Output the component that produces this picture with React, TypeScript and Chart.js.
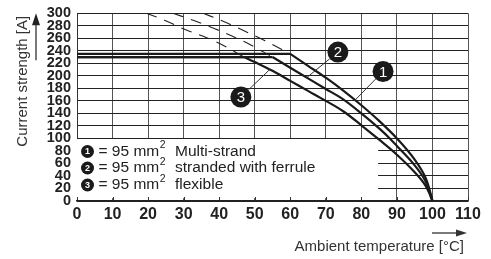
import React, { useEffect, useRef } from "react";
import { Chart, registerables } from "chart.js";

Chart.register(...registerables);

// ---------- data ----------
const xMin = 0;
const xMax = 110;
const xStep = 10;
const yMin = 0;
const yMax = 300;
const yStep = 20;

const flat1Temp = [0, 60];
const flat1Amp = [235, 235];
const flat2Temp = [0, 55];
const flat2Amp = [230, 230];
const flat3Temp = [0, 47];
const flat3Amp = [230, 230];

const curve1Temp = [60, 65, 70, 75, 80, 85, 90, 95, 98, 99, 100];
const curve1Amp = [235, 216, 197, 176, 153, 128, 100, 66, 38, 22, 0];
const curve2Temp = [55, 60, 65, 70, 75, 80, 85, 88, 90, 95, 98, 99, 100];
const curve2Amp = [230, 213, 196, 179, 162, 140, 116, 100, 88, 57, 32, 18, 0];
const curve3Temp = [47, 50, 55, 60, 65, 70, 75, 80, 85, 90, 95, 98, 99, 100];
const curve3Amp = [230, 222, 208, 192, 176, 160, 143, 121, 98, 74, 46, 25, 14, 0];

const dash1Temp = [35.5, 41.6, 47, 52.9, 60];
const dash1Amp = [300, 286, 272, 256, 235];
const dash2Temp = [27, 34, 41, 48, 55];
const dash2Amp = [300, 286, 270, 252, 230];
const dash3Temp = [19.5, 24.6, 30.4, 36.5, 42, 47];
const dash3Amp = [300, 289, 274, 261, 246, 230];

// callout labels: circle position and point on the curve
const calloutNames = ["1", "2", "3"];
const calloutCircleTemp = [86.1, 73.4, 46.1];
const calloutCircleAmp = [207, 238, 166];
const calloutTargetTemp = [78.2, 64.6, 54.3];
const calloutTargetAmp = [161, 197, 210.5];

const legendNames = ["1", "2", "3"];
const legendSize = ["= 95 mm", "= 95 mm", "= 95 mm"];
const legendDesc = ["Multi-strand", "stranded with ferrule", "flexible"];

const yTitle = "Current strength [A]";
const xTitle = "Ambient temperature [°C]";

const FONT = '"Liberation Sans", Arial, Helvetica, sans-serif';

const pts = (xs: number[], ys: number[]) => xs.map((x, i) => ({ x, y: ys[i] }));

const overlayPlugin = {
  id: "overlay",
  beforeDatasetsDraw(chart: any) {
    const { ctx, chartArea, scales } = chart;
    const x = scales.x;
    const y = scales.y;
    ctx.save();
    // white legend field
    const l = chartArea.left - 1.5;
    const r = x.getPixelForValue(84.7);
    const t = y.getPixelForValue(99);
    const b = y.getPixelForValue(4.5);
    ctx.fillStyle = "#ffffff";
    ctx.fillRect(l, t, r - l, b - t);
    // inward tick marks on the x axis
    ctx.strokeStyle = "#333";
    ctx.lineWidth = 1;
    for (let v = xMin; v <= xMax; v += xStep) {
      const px = Math.round(x.getPixelForValue(v)) + 0.5;
      ctx.beginPath();
      ctx.moveTo(px, chartArea.bottom);
      ctx.lineTo(px, chartArea.bottom - 4);
      ctx.stroke();
    }
    // redraw bottom axis line
    ctx.strokeStyle = "#222";
    ctx.lineWidth = 1.5;
    ctx.beginPath();
    ctx.moveTo(chartArea.left, chartArea.bottom);
    ctx.lineTo(chartArea.right, chartArea.bottom);
    ctx.stroke();
    ctx.restore();
  },
  afterDatasetsDraw(chart: any) {
    const { ctx, chartArea, scales } = chart;
    const x = scales.x;
    const y = scales.y;
    ctx.save();

    // callouts
    for (let i = 0; i < calloutNames.length; i++) {
      const cx = x.getPixelForValue(calloutCircleTemp[i]);
      const cy = y.getPixelForValue(calloutCircleAmp[i]);
      const tx = x.getPixelForValue(calloutTargetTemp[i]);
      const ty = y.getPixelForValue(calloutTargetAmp[i]);
      const rad = 10.5;
      const d = Math.hypot(tx - cx, ty - cy);
      ctx.strokeStyle = "#333";
      ctx.lineWidth = 1;
      ctx.beginPath();
      ctx.moveTo(cx + ((tx - cx) / d) * rad, cy + ((ty - cy) / d) * rad);
      ctx.lineTo(tx, ty);
      ctx.stroke();
      ctx.fillStyle = "#1a1a1a";
      ctx.beginPath();
      ctx.arc(cx, cy, rad, 0, Math.PI * 2);
      ctx.fill();
      ctx.fillStyle = "#ffffff";
      ctx.font = `15px ${FONT}`;
      ctx.textAlign = "center";
      ctx.textBaseline = "middle";
      ctx.fillText(calloutNames[i], cx, cy + 1);
    }

    // legend
    const rowsY = [chartArea.bottom - 49.5, chartArea.bottom - 33, chartArea.bottom - 16];
    for (let i = 0; i < legendNames.length; i++) {
      const ry = rowsY[i];
      const cx = chartArea.left + 10.5;
      ctx.fillStyle = "#1a1a1a";
      ctx.beginPath();
      ctx.arc(cx, ry, 6.5, 0, Math.PI * 2);
      ctx.fill();
      ctx.fillStyle = "#fff";
      ctx.font = `bold 9px ${FONT}`;
      ctx.textAlign = "center";
      ctx.textBaseline = "middle";
      ctx.fillText(legendNames[i], cx, ry + 0.5);

      ctx.fillStyle = "#222";
      ctx.textAlign = "left";
      ctx.font = `15.5px ${FONT}`;
      const sx = chartArea.left + 21.5;
      ctx.fillText(legendSize[i], sx, ry);
      const w = ctx.measureText(legendSize[i]).width;
      ctx.font = `10.5px ${FONT}`;
      ctx.fillText("2", sx + w + 0.5, ry - 6);
      ctx.font = `15.5px ${FONT}`;
      ctx.fillText(legendDesc[i], chartArea.left + 98, ry);
    }

    // y title with arrow
    ctx.fillStyle = "#333";
    ctx.font = `15px ${FONT}`;
    ctx.textAlign = "center";
    ctx.textBaseline = "middle";
    ctx.save();
    ctx.translate(22.5, chartArea.top + 68);
    ctx.rotate(-Math.PI / 2);
    ctx.fillText(yTitle, 0, 0);
    ctx.restore();
    ctx.strokeStyle = "#222";
    ctx.lineWidth = 1.2;
    ctx.beginPath();
    ctx.moveTo(36, chartArea.top + 47);
    ctx.lineTo(36, chartArea.top + 8);
    ctx.stroke();
    ctx.fillStyle = "#222";
    ctx.beginPath();
    ctx.moveTo(36, chartArea.top);
    ctx.lineTo(32, chartArea.top + 12);
    ctx.lineTo(40, chartArea.top + 12);
    ctx.closePath();
    ctx.fill();

    // x title with arrow
    ctx.fillStyle = "#333";
    ctx.font = `15px ${FONT}`;
    ctx.textAlign = "right";
    ctx.textBaseline = "middle";
    ctx.fillText(xTitle, chartArea.right - 4, chartArea.bottom + 46);
    ctx.strokeStyle = "#222";
    ctx.lineWidth = 1.2;
    const ay = chartArea.bottom + 32;
    ctx.beginPath();
    ctx.moveTo(chartArea.right - 36, ay);
    ctx.lineTo(chartArea.right - 8, ay);
    ctx.stroke();
    ctx.beginPath();
    ctx.moveTo(chartArea.right - 1, ay);
    ctx.lineTo(chartArea.right - 12, ay - 3.5);
    ctx.lineTo(chartArea.right - 12, ay + 3.5);
    ctx.closePath();
    ctx.fill();

    ctx.restore();
  },
};

export default function App() {
  const ref = useRef<HTMLCanvasElement | null>(null);

  useEffect(() => {
    document.body.style.margin = "0";
    const canvas = ref.current;
    if (!canvas) return;

    const solid = (xs: number[], ys: number[], mono: boolean) => ({
      data: pts(xs, ys),
      borderColor: "#1a1a1a",
      borderWidth: 2.2,
      pointRadius: 0,
      fill: false,
      cubicInterpolationMode: mono ? "monotone" : "default",
      tension: 0,
    });
    const dashed = (xs: number[], ys: number[]) => ({
      data: pts(xs, ys),
      borderColor: "#222",
      borderWidth: 1.1,
      borderDash: [11, 8],
      pointRadius: 0,
      fill: false,
      cubicInterpolationMode: "monotone",
    });

    const chart = new Chart(canvas, {
      type: "line",
      data: {
        datasets: [
          dashed(dash1Temp, dash1Amp),
          dashed(dash2Temp, dash2Amp),
          dashed(dash3Temp, dash3Amp),
          solid(flat1Temp, flat1Amp, false),
          solid(flat2Temp, flat2Amp, false),
          solid(flat3Temp, flat3Amp, false),
          solid(curve1Temp, curve1Amp, true),
          solid(curve2Temp, curve2Amp, true),
          solid(curve3Temp, curve3Amp, true),
        ] as any,
      },
      options: {
        responsive: false,
        animation: false,
        devicePixelRatio: 1,
        layout: { padding: { left: 0, top: 13, right: 23, bottom: 0 } },
        plugins: { legend: { display: false }, tooltip: { enabled: false }, title: { display: false } },
        scales: {
          x: {
            type: "linear",
            min: xMin,
            max: xMax,
            ticks: {
              stepSize: xStep,
              autoSkip: false,
              maxRotation: 0,
              padding: 4,
              color: "#222",
              font: { family: FONT, size: 16, weight: "bold" },
            },
            grid: { color: "#555", lineWidth: 1, drawTicks: false },
            border: { color: "#222", width: 1.5 },
            afterFit: (s: any) => {
              s.height = 58;
            },
          },
          y: {
            type: "linear",
            min: yMin,
            max: yMax,
            ticks: {
              stepSize: yStep,
              autoSkip: false,
              padding: 6,
              color: "#222",
              font: { family: FONT, size: 14.5, weight: "bold", lineHeight: 1 },
            },
            grid: { color: "#222", lineWidth: 1, drawTicks: false },
            border: { color: "#333", width: 1 },
            afterFit: (s: any) => {
              s.width = 77;
            },
          },
        },
      } as any,
      plugins: [overlayPlugin],
    });
    return () => chart.destroy();
  }, []);

  return (
    <div style={{ width: 491, height: 259, background: "#fff" }}>
      <canvas ref={ref} width={491} height={259} style={{ display: "block" }} />
    </div>
  );
}
